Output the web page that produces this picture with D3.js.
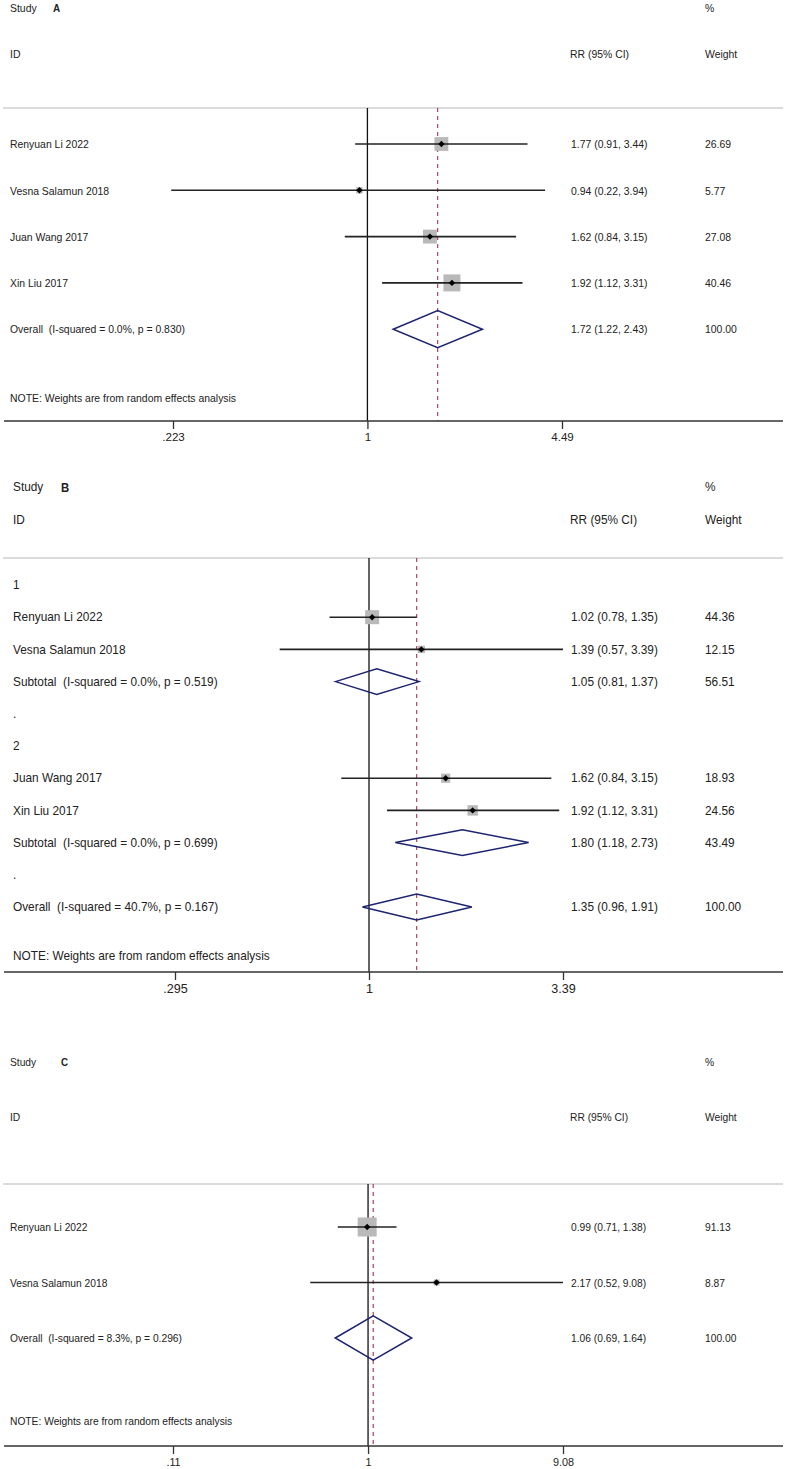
<!DOCTYPE html>
<html>
<head>
<meta charset="utf-8">
<script src="https://cdn.jsdelivr.net/npm/d3@7"></script>
<style>
  html, body { margin: 0; padding: 0; background: #fff; }
  svg text { font-family: "Liberation Sans", Arial, Helvetica, sans-serif; fill: #222; white-space: pre; }
</style>
</head>
<body>
<svg id="chart" width="786" height="1469"></svg>
<script>
// ---------------- DATA ----------------
// Panel A
const studiesA = ["Renyuan Li 2022", "Vesna Salamun 2018", "Juan Wang 2017", "Xin Liu 2017"];
const rrA      = [1.77, 0.94, 1.62, 1.92];
const lowA     = [0.91, 0.22, 0.84, 1.12];
const highA    = [3.44, 3.94, 3.15, 3.31];
const weightA  = [26.69, 5.77, 27.08, 40.46];
const overallA = [1.72, 1.22, 2.43, 100.00];
const overallLabelA = "Overall  (I-squared = 0.0%, p = 0.830)";
const ticksA = [0.223, 1, 4.49];
const tickLabelsA = [".223", "1", "4.49"];

// Panel B, subgroup 1
const studiesB1 = ["Renyuan Li 2022", "Vesna Salamun 2018"];
const rrB1      = [1.02, 1.39];
const lowB1     = [0.78, 0.57];
const highB1    = [1.35, 3.39];
const weightB1  = [44.36, 12.15];
const subtotalB1 = [1.05, 0.81, 1.37, 56.51];
const subtotalLabelB1 = "Subtotal  (I-squared = 0.0%, p = 0.519)";
// Panel B, subgroup 2
const studiesB2 = ["Juan Wang 2017", "Xin Liu 2017"];
const rrB2      = [1.62, 1.92];
const lowB2     = [0.84, 1.12];
const highB2    = [3.15, 3.31];
const weightB2  = [18.93, 24.56];
const subtotalB2 = [1.80, 1.18, 2.73, 43.49];
const subtotalLabelB2 = "Subtotal  (I-squared = 0.0%, p = 0.699)";
const overallB = [1.35, 0.96, 1.91, 100.00];
const overallLabelB = "Overall  (I-squared = 40.7%, p = 0.167)";
const ticksB = [0.295, 1, 3.39];
const tickLabelsB = [".295", "1", "3.39"];

// Panel C
const studiesC = ["Renyuan Li 2022", "Vesna Salamun 2018"];
const rrC      = [0.99, 2.17];
const lowC     = [0.71, 0.52];
const highC    = [1.38, 9.08];
const weightC  = [91.13, 8.87];
const overallC = [1.06, 0.69, 1.64, 100.00];
const overallLabelC = "Overall  (I-squared = 8.3%, p = 0.296)";
const ticksC = [0.11, 1, 9.08];
const tickLabelsC = [".11", "1", "9.08"];

const noteText = "NOTE: Weights are from random effects analysis";

// ---------------- BUILD ROWS ----------------
function studyRows(names, rr, lo, hi, w) {
  return names.map((n, i) => ({type: "study", label: n, rr: rr[i], lo: lo[i], hi: hi[i], w: w[i]}));
}
function pooledRow(type, label, arr) {
  return {type, label, rr: arr[0], lo: arr[1], hi: arr[2], w: arr[3]};
}

const rowsA = [
  ...studyRows(studiesA, rrA, lowA, highA, weightA),
  pooledRow("pooled", overallLabelA, overallA)
];
const rowsB = [
  {type: "text", label: "1"},
  ...studyRows(studiesB1, rrB1, lowB1, highB1, weightB1),
  pooledRow("pooled", subtotalLabelB1, subtotalB1),
  {type: "text", label: "."},
  {type: "text", label: "2"},
  ...studyRows(studiesB2, rrB2, lowB2, highB2, weightB2),
  pooledRow("pooled", subtotalLabelB2, subtotalB2),
  {type: "text", label: "."},
  pooledRow("pooled", overallLabelB, overallB)
];
const rowsC = [
  ...studyRows(studiesC, rrC, lowC, highC, weightC),
  pooledRow("pooled", overallLabelC, overallC)
];

// ---------------- LAYOUT ----------------
const panels = [
  {letter: "A", rows: rowsA, overall: overallA, ticks: ticksA, tickLabels: tickLabelsA,
   fs: 11.6, sx: 0.9, labelX: 10, letterX: 53,
   h1: 8, h2: 54, topLine: 108, row0: 144, step: 46.3, noteY: 398, axisY: 421,
   xr: [173, 562], boxMax: 17},
  {letter: "B", rows: rowsB, overall: overallB, ticks: ticksB, tickLabels: tickLabelsB,
   fs: 12.6, sx: 0.94, labelX: 13, letterX: 61,
   h1: 487, h2: 520, topLine: 558, row0: 585, step: 32.2, noteY: 956, axisY: 972,
   xr: [175, 563], boxMax: 14},
  {letter: "C", rows: rowsC, overall: overallC, ticks: ticksC, tickLabels: tickLabelsC,
   fs: 10.8, sx: 0.95, labelX: 10, letterX: 61,
   h1: 1062, h2: 1117, topLine: 1184, row0: 1227, step: 55.5, noteY: 1421, axisY: 1446,
   xr: [173, 563], boxMax: 19}
];

const svg = d3.select("#chart");
const fmt = d3.format(".2f");

function addText(g, x, y, str, p, opts = {}) {
  const t = g.append("text")
    .attr("transform", `translate(${x},${y}) scale(${p.sx},1)`)
    .attr("dominant-baseline", "central")
    .style("font-size", (opts.fs || p.fs) + "px")
    .text(str);
  if (opts.bold) t.style("font-weight", "bold");
  if (opts.anchor) t.attr("text-anchor", opts.anchor);
  return t;
}

panels.forEach(p => {
  const g = svg.append("g");
  const x = d3.scaleLog().domain([p.ticks[0], p.ticks[2]]).range(p.xr);
  const y = i => p.row0 + i * p.step;
  const maxW = d3.max(p.rows.filter(r => r.type === "study"), r => r.w);
  const box = d3.scaleSqrt().domain([0, maxW]).range([0, p.boxMax]);
  const valX = 571, wX = 705;

  // headers
  addText(g, p.labelX, p.h1, "Study", p);
  addText(g, p.letterX, p.h1, p.letter, p, {bold: true, fs: p.fs - 0.5});
  addText(g, wX, p.h1, "%", p);
  addText(g, p.labelX, p.h2, "ID", p);
  addText(g, valX - 1, p.h2, "RR (95% CI)", p);
  addText(g, wX, p.h2, "Weight", p);

  // top separator
  g.append("line").attr("x1", 3).attr("x2", 783)
    .attr("y1", p.topLine).attr("y2", p.topLine)
    .attr("stroke", "#cfcfcf").attr("stroke-width", 1.6);

  // no-effect line
  g.append("line").attr("x1", x(1)).attr("x2", x(1))
    .attr("y1", p.topLine).attr("y2", p.axisY)
    .attr("stroke", "#111").attr("stroke-width", 1.3);

  // overall effect dashed line
  g.append("line").attr("x1", x(p.overall[0])).attr("x2", x(p.overall[0]))
    .attr("y1", p.topLine).attr("y2", p.axisY)
    .attr("stroke", "#a3364a").attr("stroke-width", 1.1)
    .attr("stroke-dasharray", "4,4");

  // rows
  p.rows.forEach((r, i) => {
    const yy = y(i);
    addText(g, p.labelX, yy, r.label, p);
    if (r.type === "study") {
      const s = box(r.w);
      g.append("rect").attr("x", x(r.rr) - s / 2).attr("y", yy - s / 2)
        .attr("width", s).attr("height", s).attr("fill", "#b9b9b9");
      g.append("line").attr("x1", x(r.lo)).attr("x2", x(r.hi))
        .attr("y1", yy).attr("y2", yy)
        .attr("stroke", "#222").attr("stroke-width", 1.6);
      const d = 3.2;
      g.append("path")
        .attr("d", `M${x(r.rr) - d},${yy} L${x(r.rr)},${yy - d} L${x(r.rr) + d},${yy} L${x(r.rr)},${yy + d} Z`)
        .attr("fill", "#000");
    } else if (r.type === "pooled") {
      const hh = p.step * 0.4;
      g.append("path")
        .attr("d", `M${x(r.lo)},${yy} L${x(r.rr)},${yy - hh} L${x(r.hi)},${yy} L${x(r.rr)},${yy + hh} Z`)
        .attr("fill", "none").attr("stroke", "#1d2470").attr("stroke-width", 1.5);
    }
    if (r.type === "study" || r.type === "pooled") {
      addText(g, valX, yy, `${fmt(r.rr)} (${fmt(r.lo)}, ${fmt(r.hi)})`, p);
      addText(g, wX, yy, fmt(r.w), p);
    }
  });

  // note
  addText(g, p.labelX, p.noteY, noteText, p);

  // axis
  g.append("line").attr("x1", 4).attr("x2", 783)
    .attr("y1", p.axisY).attr("y2", p.axisY)
    .attr("stroke", "#333").attr("stroke-width", 1.6);
  const axis = d3.axisBottom(x).tickValues(p.ticks)
    .tickFormat((d, i) => p.tickLabels[i]).tickSize(8).tickPadding(4);
  const ag = g.append("g").attr("transform", `translate(0,${p.axisY})`).call(axis);
  ag.select(".domain").remove();
  ag.selectAll(".tick line").attr("stroke", "#333").attr("stroke-width", 1.3);
  ag.selectAll(".tick text")
    .style("font-size", p.fs + "px")
    .style("font-family", '"Liberation Sans", Arial, sans-serif')
    .attr("fill", "#222");
});
</script>
</body>
</html>
